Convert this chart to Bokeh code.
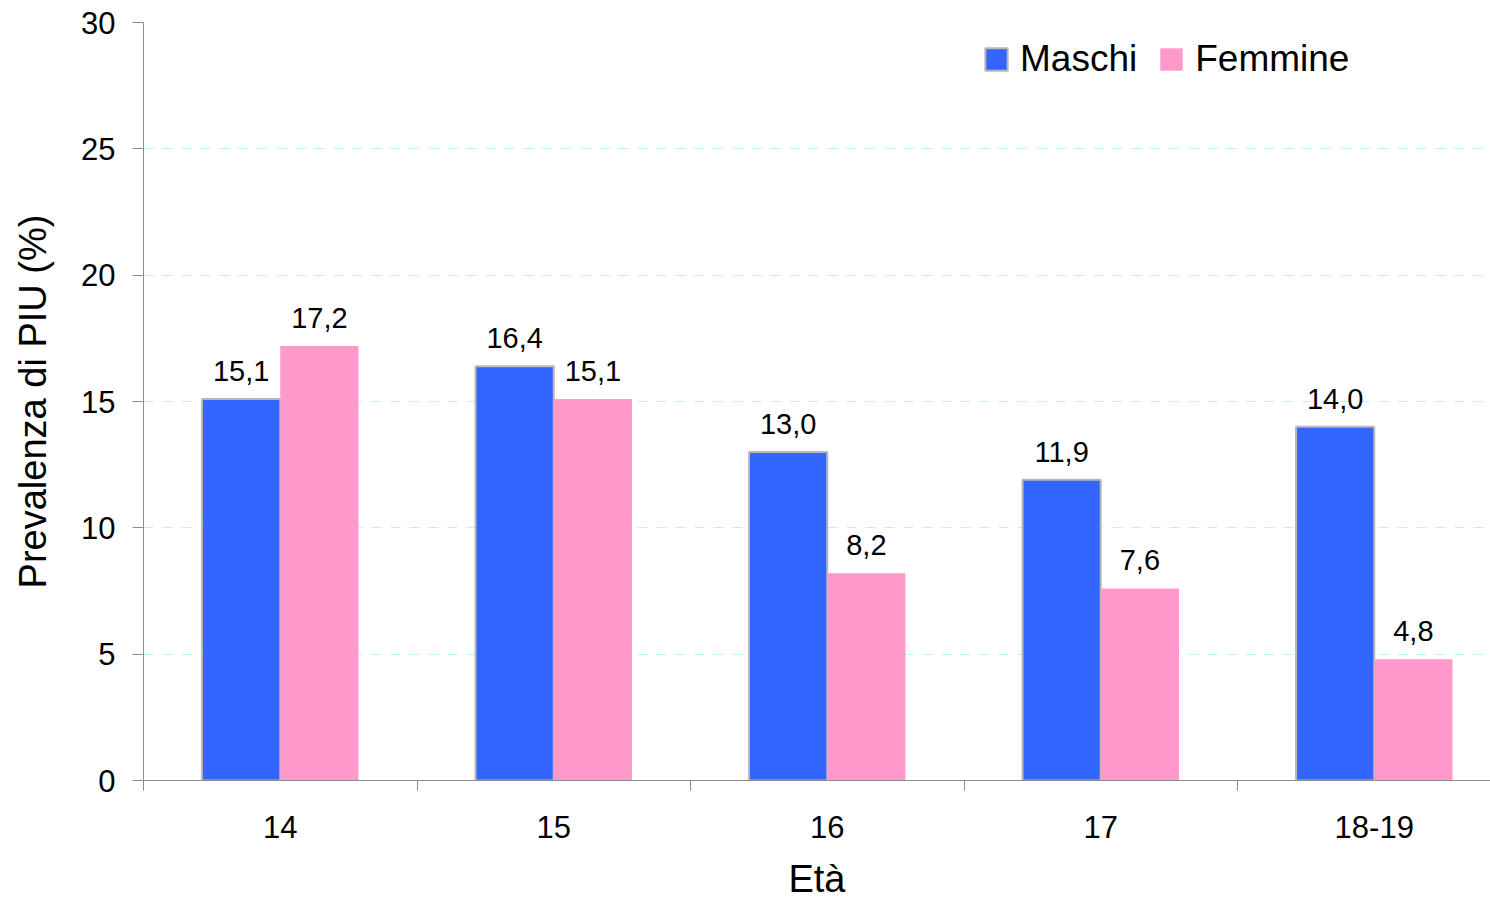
from bokeh.plotting import figure
from bokeh.models import ColumnDataSource, FixedTicker, Range1d, Legend, LegendItem, LabelSet
from bokeh.core.properties import value
from bokeh.embed import file_html
from bokeh.resources import INLINE

categories = ["14", "15", "16", "17", "18-19"]
maschi = [15.1, 16.4, 13.0, 11.9, 14.0]
femmine = [17.2, 15.1, 8.2, 7.6, 4.8]
y_ticks = [0, 5, 10, 15, 20, 25, 30]

FONT = "Liberation Sans"
centers = [i + 0.5 for i in range(len(categories))]
bw = 0.286
xm = [c - bw / 2 for c in centers]
xf = [c + bw / 2 for c in centers]

fmt = lambda v: f"{v:.1f}".replace(".", ",")
src_m = ColumnDataSource(dict(x=xm, top=maschi, lab=[fmt(v) for v in maschi]))
src_f = ColumnDataSource(dict(x=xf, top=femmine, lab=[fmt(v) for v in femmine]))

p = figure(width=1490, height=902, output_backend="svg", toolbar_location=None,
           x_range=Range1d(0, 4.925), y_range=Range1d(0, 30),
           min_border_left=143, min_border_right=0, min_border_top=22, min_border_bottom=120)
p.outline_line_color = None
p.background_fill_color = "white"

rm = p.vbar(x="x", top="top", width=bw, bottom=0, source=src_m,
            fill_color="#3366FF", line_color="#B8B8B8", line_width=2)
rf = p.vbar(x="x", top="top", width=bw, bottom=0, source=src_f,
            fill_color="#FF99CC", line_color=None)

for src in (src_m, src_f):
    p.add_layout(LabelSet(x="x", y="top", text="lab", source=src, text_align="center",
                          text_baseline="bottom", y_offset=18, text_font=value(FONT),
                          text_font_size="29px", text_color="black"))

# y axis
p.yaxis.ticker = FixedTicker(ticks=y_ticks)
p.yaxis.axis_label = "Prevalenza di PIU (%)"
p.yaxis.axis_label_text_font = FONT
p.yaxis.axis_label_text_font_size = "38px"
p.yaxis.axis_label_text_font_style = "normal"
p.yaxis.axis_label_text_color = "black"
p.yaxis.axis_label_standoff = 24
p.yaxis.major_label_text_font = FONT
p.yaxis.major_label_text_font_size = "31px"
p.yaxis.major_label_text_color = "black"
p.yaxis.major_label_standoff = 17
p.yaxis.major_tick_in = 0
p.yaxis.major_tick_out = 11
p.yaxis.minor_tick_in = 0
p.yaxis.minor_tick_out = 0
p.yaxis.axis_line_color = "#8C8C8C"
p.yaxis.major_tick_line_color = "#8C8C8C"

# x axis
p.xaxis.ticker = FixedTicker(ticks=centers, minor_ticks=[0, 1, 2, 3, 4, 5])
p.xaxis.major_label_overrides = {c: lab for c, lab in zip(centers, categories)}
p.xaxis.major_tick_in = 0
p.xaxis.major_tick_out = 0
p.xaxis.minor_tick_in = 0
p.xaxis.minor_tick_out = 10
p.xaxis.minor_tick_line_color = "#8C8C8C"
p.xaxis.axis_line_color = "#8C8C8C"
p.xaxis.major_label_text_font = FONT
p.xaxis.major_label_text_font_size = "31px"
p.xaxis.major_label_text_color = "black"
p.xaxis.major_label_standoff = 25
p.xaxis.axis_label = "Età"
p.xaxis.axis_label_text_font = FONT
p.xaxis.axis_label_text_font_size = "38px"
p.xaxis.axis_label_text_font_style = "normal"
p.xaxis.axis_label_text_color = "black"
p.xaxis.axis_label_standoff = 17

p.xgrid.grid_line_color = None
p.ygrid.ticker = FixedTicker(ticks=y_ticks[1:])
p.ygrid.grid_line_color = "#BDF2F2"
p.ygrid.grid_line_dash = "10 9"
p.ygrid.grid_line_width = 1

legend = Legend(items=[LegendItem(label="Maschi", renderers=[rm]),
                       LegendItem(label="Femmine", renderers=[rf])],
                location=(839, 700), orientation="horizontal")
legend.label_text_font = FONT
legend.label_text_font_size = "37px"
legend.label_text_color = "black"
legend.glyph_width = 28
legend.glyph_height = 28
legend.label_standoff = 10
legend.spacing = 20
legend.padding = 0
legend.margin = 0
legend.border_line_color = None
legend.background_fill_alpha = 0
p.add_layout(legend)

open("out.html", "w").write(file_html(p, INLINE))
